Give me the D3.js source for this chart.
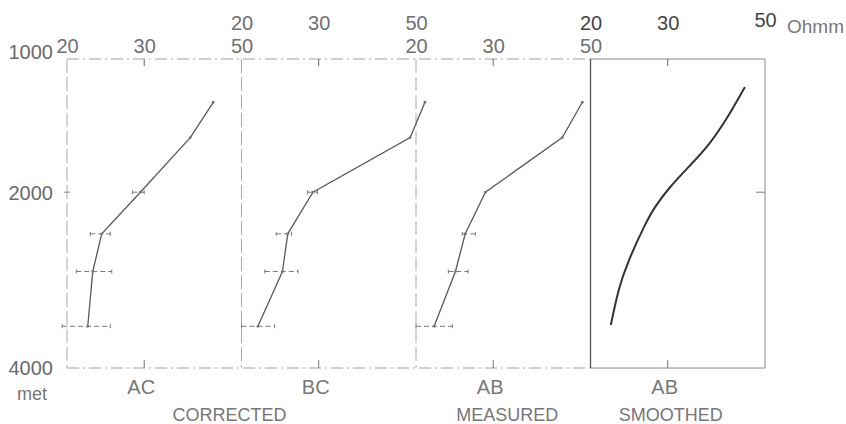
<!DOCTYPE html>
<html>
<head>
<meta charset="utf-8">
<script src="https://cdn.jsdelivr.net/npm/d3@7"></script>
<style>
  html, body { margin: 0; padding: 0; background: #fff; }
  svg { display: block; }
  text { font-family: "Liberation Sans", "DejaVu Sans", sans-serif; }
</style>
</head>
<body>
<svg id="chart" width="846" height="424"></svg>
<script>
// ---- data ----
const depthTicks = [1000, 2000, 4000];
const resTicks = [20, 30, 50];
const panelNames = ["AC", "BC", "AB", "AB"];
const groupLabels = ["CORRECTED", "MEASURED", "SMOOTHED"];
const unitLabel = "Ohmm";
const depthUnit = "met";

const depths = [1280, 1540, 2000, 2400, 2800, 3450];
const acValues = [43.1, 38.2, 29.4, 24.0, 22.9, 22.3];
const acErrLo  = [null, null, 28.2, 22.6, 21.0, 19.5];
const acErrHi  = [null, null, 30.0, 25.1, 25.3, 25.1];

const bcValues = [52.4, 48.5, 29.1, 25.5, 24.8, 21.8];
const bcErrLo  = [null, null, 28.3, 24.0, 22.6, 20.0];
const bcErrHi  = [null, null, 29.8, 26.0, 26.9, 23.8];

const abValues = [47.9, 43.1, 28.8, 25.9, 24.6, 22.0];
const abErrLo  = [null, null, null, 25.5, 23.7, 20.0];
const abErrHi  = [null, null, null, 27.3, 26.3, 24.2];

const smoothDepths = [1176, 1372, 1583, 1762, 1953, 2136, 2330, 2672, 3011, 3433];
const smoothValues = [45.0, 41.3, 37.4, 33.8, 30.4, 28.1, 26.5, 24.5, 23.2, 22.25];

// ---- layout ----
(function () {
const svg = d3.select("#chart");
const yTop = 59, yBot = 368;
const left0 = 67, panelW = 174.5;
const y = d3.scalePow().exponent(0.4).domain([1000, 4000]).range([yTop, yBot]);
const xs = panelNames.map((_, i) =>
  d3.scaleLog().domain([20, 50]).range([left0 + i * panelW, left0 + (i + 1) * panelW]));
const xRight = left0 + 4 * panelW;

const light = "#a0a0a0";
[yTop, yBot].forEach(yy => {
  svg.append("line").attr("x1", left0).attr("x2", xs[3].range()[0]).attr("y1", yy).attr("y2", yy)
    .attr("stroke", light).attr("stroke-width", 1).attr("stroke-dasharray", "12,4,2,4");
  svg.append("line").attr("x1", xs[3].range()[0]).attr("x2", xRight).attr("y1", yy).attr("y2", yy)
    .attr("stroke", "#888").attr("stroke-width", 1);
});
[0, 1, 2].forEach(i => {
  svg.append("line").attr("x1", xs[i].range()[0]).attr("x2", xs[i].range()[0]).attr("y1", yTop).attr("y2", yBot)
    .attr("stroke", "#aaa").attr("stroke-width", 1).attr("stroke-dasharray", "14,4");
});
svg.append("line").attr("x1", xs[3].range()[0]).attr("x2", xs[3].range()[0]).attr("y1", yTop).attr("y2", yBot)
  .attr("stroke", "#555").attr("stroke-width", 1.3);
svg.append("line").attr("x1", xRight).attr("x2", xRight).attr("y1", yTop).attr("y2", yBot)
  .attr("stroke", "#888").attr("stroke-width", 1);

// left depth axis
const yAxis = svg.append("g").attr("transform", `translate(${left0},0)`)
  .call(d3.axisLeft(y).tickValues(depthTicks).tickSize(0).tickPadding(14).tickFormat(d3.format("d")));
yAxis.select(".domain").remove();
yAxis.selectAll("text").attr("fill", "#6a6a6a").style("font-size", "20px")
  .attr("dy", (d, i) => i === 0 ? "-0.05em" : "0.34em");
svg.append("line").attr("x1", left0 - 3).attr("x2", left0 + 3).attr("y1", y(2000)).attr("y2", y(2000)).attr("stroke", "#888");
svg.append("line").attr("x1", xRight - 9).attr("x2", xRight).attr("y1", y(2000)).attr("y2", y(2000)).attr("stroke", "#777");
svg.append("text").attr("x", 32).attr("y", 400).attr("text-anchor", "middle")
  .attr("fill", "#777").style("font-size", "18px").text(depthUnit);

// top axes (alternating rows)
xs.forEach((x, i) => {
  const base = (i % 2 === 1) ? 30 : 53;
  const g = svg.append("g").attr("transform", `translate(0,${base})`)
    .call(d3.axisTop(x).tickValues(resTicks).tickSize(0).tickPadding(0).tickFormat(d3.format("d")));
  g.select(".domain").remove();
  g.selectAll("text").attr("fill", i === 3 ? "#444" : "#707070").style("font-size", "20px")
    .attr("dy", (d) => (i === 3 && d === 50) ? "-0.15em" : "0em");
  svg.append("line").attr("x1", x(30)).attr("x2", x(30)).attr("y1", yTop).attr("y2", yTop + 7).attr("stroke", "#666");
  svg.append("line").attr("x1", x(30)).attr("x2", x(30)).attr("y1", yBot).attr("y2", yBot - 8).attr("stroke", "#777");
  svg.append("text").attr("x", x(30) - 3).attr("y", 394).attr("text-anchor", "middle")
    .attr("fill", "#777").style("font-size", "20px").text(panelNames[i]);
});
svg.append("text").attr("x", 787).attr("y", 33).attr("fill", "#777").style("font-size", "19px").text(unitLabel);

// group labels
svg.append("text").attr("x", xs[1].range()[0] - 12).attr("y", 421).attr("text-anchor", "middle")
  .attr("fill", "#777").style("font-size", "18px").text(groupLabels[0]);
svg.append("text").attr("x", xs[2](30) + 14).attr("y", 421).attr("text-anchor", "middle")
  .attr("fill", "#777").style("font-size", "18px").text(groupLabels[1]);
svg.append("text").attr("x", xs[3](30) + 3).attr("y", 421).attr("text-anchor", "middle")
  .attr("fill", "#777").style("font-size", "18px").text(groupLabels[2]);

// data series for panels 1-3
const series = [
  { x: xs[0], v: acValues, lo: acErrLo, hi: acErrHi },
  { x: xs[1], v: bcValues, lo: bcErrLo, hi: bcErrHi },
  { x: xs[2], v: abValues, lo: abErrLo, hi: abErrHi }
];
series.forEach(s => {
  const pts = depths.map((d, i) => [s.x(s.v[i]), y(d)]);
  svg.append("path").attr("d", d3.line()(pts)).attr("fill", "none")
    .attr("stroke", "#5a5a5a").attr("stroke-width", 1.3);
  depths.forEach((d, i) => {
    svg.append("circle").attr("cx", s.x(s.v[i])).attr("cy", y(d)).attr("r", 1.4).attr("fill", "#777");
    if (s.lo[i] != null) {
      const x1 = s.x(s.lo[i]), x2 = s.x(s.hi[i]), yy = y(d);
      svg.append("line").attr("x1", x1).attr("x2", x2).attr("y1", yy).attr("y2", yy)
        .attr("stroke", "#777").attr("stroke-width", 1).attr("stroke-dasharray", "5,3");
      [x1, x2].forEach(xx => svg.append("line").attr("x1", xx).attr("x2", xx)
        .attr("y1", yy - 2).attr("y2", yy + 2).attr("stroke", "#777"));
    }
  });
});

// smoothed curve
const sm = smoothDepths.map((d, i) => [xs[3](smoothValues[i]), y(d)]);
svg.append("path").attr("d", d3.line().curve(d3.curveNatural)(sm)).attr("fill", "none")
  .attr("stroke", "#333").attr("stroke-width", 2);
})();
</script>
</body>
</html>
